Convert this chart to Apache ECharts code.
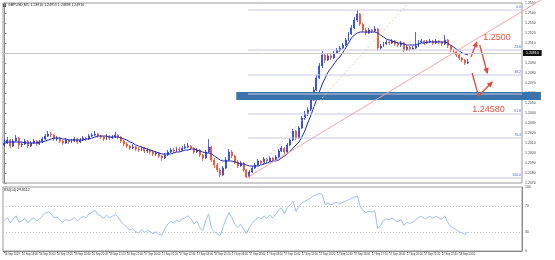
<!DOCTYPE html>
<html><head><meta charset="utf-8">
<script src="https://cdn.jsdelivr.net/npm/echarts@6/dist/echarts.min.js"></script>
<style>html,body{margin:0;padding:0;background:#fff}#c{width:555px;height:260px}</style>
</head><body><div id="c"></div><script>
const symbolTitle = 'GBPUSD,M5  1.24910 1.24915 1.24898 1.24910';
const rsiTitle = 'RSI(14) 29.8512';
const tickLabels = ["16 Sep 2019","16 Sep 14:40","16 Sep 16:00","16 Sep 17:20","16 Sep 18:40","16 Sep 20:00","16 Sep 21:20","16 Sep 22:40","17 Sep 00:00","17 Sep 01:20","17 Sep 02:40","17 Sep 04:00","17 Sep 05:20","17 Sep 06:40","17 Sep 08:00","17 Sep 09:20","17 Sep 10:40","17 Sep 12:00","17 Sep 13:20","17 Sep 14:40","17 Sep 16:00","17 Sep 17:20","17 Sep 18:40","17 Sep 20:00","17 Sep 21:20","17 Sep 22:40","18 Sep 00:00"];
const barsPerLabel = 6;
const emptyBars = 18;
const firstOpen = 1.2408;
const closes = [1.2410,1.2413,1.2407,1.2412,1.2415,1.2408,1.2409,1.2412,1.2407,1.2410,
1.2412,1.2409,1.2411,1.2414,1.2417,1.2419,1.2418,1.2414,1.2415,1.2412,
1.2410,1.2413,1.2411,1.2412,1.2414,1.2411,1.2413,1.2415,1.2414,1.2417,
1.2418,1.2419,1.2417,1.2416,1.2414,1.2417,1.2415,1.2416,1.2418,1.2416,
1.2412,1.2409,1.2407,1.2405,1.2406,1.2404,1.2403,1.2405,1.2402,1.2403,
1.2401,1.2399,1.2400,1.2397,1.2395,1.2398,1.2401,1.2403,1.2402,1.2404,
1.2403,1.2405,1.2406,1.2407,1.2405,1.2401,1.2403,1.2398,1.2395,1.2401,
1.2406,1.2393,1.2388,1.2383,1.2378,1.2385,1.2393,1.2401,1.2397,1.2391,
1.2387,1.2390,1.2383,1.2376,1.2381,1.2385,1.2388,1.2392,1.2390,1.2394,
1.2392,1.2395,1.2393,1.2396,1.2402,1.2405,1.2401,1.2408,1.2413,1.2422,
1.2415,1.2425,1.2435,1.2439,1.2443,1.2453,1.2463,1.2475,1.2487,1.2498,
1.2493,1.2497,1.2495,1.2500,1.2503,1.2505,1.2508,1.2513,1.2519,1.2525,
1.2533,1.2539,1.2529,1.2523,1.2520,1.2523,1.2522,1.2524,1.2505,1.2507,
1.2509,1.2511,1.2510,1.2512,1.2509,1.2508,1.2510,1.2503,1.2506,1.2504,
1.2505,1.2507,1.2511,1.2512,1.2510,1.2511,1.2512,1.2510,1.2512,1.2511,
1.2509,1.2513,1.2507,1.2503,1.2501,1.2498,1.2495,1.2493,1.2490,1.2491];
const highs = [1.2414,1.2416,1.2414,1.2414,1.2418,1.2416,1.2411,1.2414,1.2413,1.2412,
1.2414,1.2413,1.2413,1.2416,1.2419,1.2422,1.2421,1.2419,1.2417,1.2416,
1.2413,1.2415,1.2414,1.2414,1.2416,1.2415,1.2415,1.2417,1.2416,1.2419,
1.2420,1.2422,1.2420,1.2418,1.2417,1.2419,1.2418,1.2418,1.2421,1.2419,
1.2417,1.2413,1.2411,1.2408,1.2409,1.2407,1.2406,1.2407,1.2406,1.2405,
1.2404,1.2403,1.2402,1.2401,1.2398,1.2400,1.2403,1.2405,1.2405,1.2406,
1.2406,1.2407,1.2409,1.2410,1.2408,1.2406,1.2405,1.2404,1.2399,1.2403,
1.2414,1.2407,1.2395,1.2390,1.2385,1.2387,1.2396,1.2404,1.2403,1.2398,
1.2393,1.2392,1.2391,1.2384,1.2383,1.2387,1.2390,1.2394,1.2393,1.2396,
1.2395,1.2397,1.2396,1.2398,1.2404,1.2407,1.2406,1.2410,1.2415,1.2424,
1.2423,1.2427,1.2437,1.2442,1.2446,1.2455,1.2466,1.2478,1.2490,1.2502,
1.2500,1.2500,1.2499,1.2502,1.2505,1.2507,1.2510,1.2515,1.2521,1.2528,
1.2536,1.2543,1.2540,1.2530,1.2525,1.2525,1.2524,1.2527,1.2525,1.2509,
1.2511,1.2513,1.2512,1.2514,1.2513,1.2511,1.2512,1.2511,1.2508,1.2507,
1.2507,1.2521,1.2513,1.2514,1.2513,1.2513,1.2514,1.2513,1.2514,1.2513,
1.2512,1.2518,1.2514,1.2508,1.2504,1.2502,1.2499,1.2496,1.2494,1.2494];
const lows = [1.2406,1.2409,1.2405,1.2406,1.2411,1.2404,1.2406,1.2408,1.2405,1.2406,
1.2409,1.2407,1.2408,1.2410,1.2413,1.2416,1.2416,1.2412,1.2412,1.2410,
1.2408,1.2409,1.2409,1.2410,1.2411,1.2409,1.2410,1.2412,1.2412,1.2413,
1.2416,1.2417,1.2415,1.2414,1.2412,1.2413,1.2413,1.2414,1.2415,1.2414,
1.2410,1.2407,1.2405,1.2403,1.2404,1.2402,1.2401,1.2402,1.2400,1.2400,
1.2399,1.2397,1.2397,1.2395,1.2392,1.2394,1.2397,1.2400,1.2400,1.2401,
1.2401,1.2402,1.2404,1.2405,1.2403,1.2399,1.2400,1.2396,1.2392,1.2394,
1.2400,1.2391,1.2385,1.2381,1.2376,1.2377,1.2384,1.2392,1.2395,1.2389,
1.2385,1.2386,1.2381,1.2375,1.2375,1.2380,1.2384,1.2387,1.2388,1.2389,
1.2390,1.2391,1.2391,1.2392,1.2395,1.2401,1.2399,1.2400,1.2407,1.2412,
1.2413,1.2414,1.2424,1.2433,1.2437,1.2442,1.2452,1.2462,1.2474,1.2485,
1.2490,1.2492,1.2493,1.2494,1.2499,1.2501,1.2504,1.2507,1.2512,1.2518,
1.2524,1.2531,1.2527,1.2521,1.2518,1.2519,1.2520,1.2521,1.2502,1.2503,
1.2506,1.2508,1.2508,1.2509,1.2507,1.2506,1.2506,1.2501,1.2502,1.2502,
1.2503,1.2504,1.2506,1.2510,1.2508,1.2509,1.2510,1.2508,1.2509,1.2509,
1.2507,1.2508,1.2505,1.2501,1.2499,1.2496,1.2493,1.2491,1.2488,1.2489];
const maValues = [1.2411,1.2411,1.2411,1.2411,1.2411,1.2411,1.2411,1.2410,1.2410,1.2410,
1.2410,1.2410,1.2411,1.2411,1.2412,1.2413,1.2414,1.2415,1.2415,1.2415,
1.2414,1.2414,1.2413,1.2413,1.2413,1.2413,1.2413,1.2413,1.2414,1.2414,
1.2415,1.2416,1.2417,1.2417,1.2417,1.2417,1.2416,1.2416,1.2416,1.2416,
1.2415,1.2414,1.2413,1.2411,1.2410,1.2408,1.2407,1.2406,1.2405,1.2404,
1.2403,1.2402,1.2401,1.2400,1.2399,1.2399,1.2399,1.2399,1.2400,1.2401,
1.2401,1.2402,1.2403,1.2403,1.2404,1.2404,1.2403,1.2402,1.2401,1.2400,
1.2400,1.2399,1.2397,1.2395,1.2393,1.2392,1.2392,1.2392,1.2392,1.2391,
1.2390,1.2389,1.2389,1.2388,1.2387,1.2387,1.2387,1.2387,1.2388,1.2389,
1.2390,1.2391,1.2392,1.2392,1.2393,1.2395,1.2397,1.2399,1.2402,1.2405,
1.2408,1.2411,1.2416,1.2422,1.2430,1.2437,1.2445,1.2453,1.2461,1.2469,
1.2475,1.2481,1.2485,1.2489,1.2493,1.2496,1.2500,1.2505,1.2510,1.2515,
1.2518,1.2520,1.2521,1.2521,1.2521,1.2521,1.2521,1.2521,1.2520,1.2518,
1.2516,1.2514,1.2513,1.2512,1.2511,1.2510,1.2510,1.2509,1.2508,1.2508,
1.2508,1.2508,1.2509,1.2510,1.2510,1.2511,1.2511,1.2511,1.2511,1.2511,
1.2511,1.2511,1.2510,1.2508,1.2506,1.2504,1.2502,1.2500,1.2499,1.2498];
const rsiValues = [48,52,44,50,55,45,47,51,44,49,
52,47,50,55,59,61,58,52,53,48,
45,50,47,49,52,47,51,54,52,58,
60,64,57,55,51,56,52,54,57,53,
46,41,37,33,35,30,28,33,29,32,
30,27,30,26,25,35,42,46,44,48,
46,50,52,55,50,42,47,37,32,47,
58,35,30,27,24,38,50,60,52,42,
37,42,34,27,37,44,48,53,50,55,
51,56,52,57,64,67,58,68,72,78,
62,70,75,78,80,83,86,88,90,88,
72,75,72,75,76,74,76,78,80,82,
84,86,70,63,60,62,61,63,35,40,
48,50,49,52,47,46,49,40,45,43,
45,48,53,54,51,52,54,51,54,52,
49,55,45,38,36,33,30,28,26,30];
const bidPrice = 1.2491;
const bidLabel = '1.24910';
const rsiLevels = [70, 30];
const rsiAxisLabels = [0, 30, 70, 100];
const fibLevels = [['0.0',1.2543],['23.6',1.2503],['38.2',1.2478],['50.0',1.2459],['61.8',1.2439],['76.4',1.2415],['100.0',1.2375]];
const fibStartIndex = 84;
const band = {from: 80, to: 184, low: 1.2453, high: 1.2461};
const trendLine = [[83,1.2375],[184,1.2553]];
const fibDiagonal = [[84,1.2375],[138,1.2548]];
const arrows = [
  [[160,1.2496],[162,1.2511]],
  [[163,1.2508],[165.6,1.2480]],
  [[160.4,1.2480],[162.6,1.2457],[167.3,1.2471]]
];
const notes = [['1.2500',164.2,1.2515],['1.24580',160.4,1.2443]];

const N = closes.length;
const totalBars = N + emptyBars;
const cats = [];
for (let i = 0; i < totalBars; i++) cats.push('b' + i);
const candleData = closes.map((c, i) => [i === 0 ? firstOpen : closes[i - 1], c, lows[i], highs[i]]);
const labelAt = idx => (idx % barsPerLabel === 0 && idx / barsPerLabel < tickLabels.length);

const chart = echarts.init(document.getElementById('c'), null, {renderer: 'canvas'});
const FONT = 'Liberation Sans, Arial, sans-serif';

function arrowHead(p, q, size) {
  const dx = q[0] - p[0], dy = q[1] - p[1];
  const len = Math.sqrt(dx * dx + dy * dy) || 1;
  const ux = dx / len, uy = dy / len;
  const bx = q[0] - ux * size, by = q[1] - uy * size;
  return [[q[0] + ux * 1, q[1] + uy * 1], [bx - uy * size * 0.55, by + ux * size * 0.55], [bx + uy * size * 0.55, by - ux * size * 0.55]];
}

function renderAnnotations(params, api) {
  const ch = [];
  const tl = api.coord([band.from - 0.5, band.high]);
  const br = api.coord([band.to, band.low]);
  ch.push({type: 'rect', shape: {x: tl[0], y: tl[1], width: br[0] - tl[0], height: br[1] - tl[1]}, style: {fill: '#3a73aa'}});
  fibLevels.forEach(([lab, v]) => {
    const a = api.coord([fibStartIndex - 0.5, v]);
    const b = api.coord([totalBars - 0.5, v]);
    ch.push({type: 'line', shape: {x1: a[0], y1: a[1], x2: b[0], y2: b[1]}, style: {stroke: '#c5c8e4', lineWidth: 1}});
    ch.push({type: 'text', style: {text: lab, x: b[0] - 1, y: a[1] - 0.5, align: 'right', verticalAlign: 'bottom', fill: lab === '50.0' ? '#ffffff' : '#3f5fd6', font: '3.5px ' + FONT}});
  });
  const t1 = api.coord(trendLine[0]), t2 = api.coord(trendLine[1]);
  ch.push({type: 'line', shape: {x1: t1[0], y1: t1[1], x2: t2[0], y2: t2[1]}, style: {stroke: '#f2a3a3', lineWidth: 1}});
  const d1 = api.coord(fibDiagonal[0]), d2 = api.coord(fibDiagonal[1]);
  ch.push({type: 'line', shape: {x1: d1[0], y1: d1[1], x2: d2[0], y2: d2[1]}, style: {stroke: '#f6c9a0', lineWidth: 1, lineDash: [2, 2]}});
  arrows.forEach(pts => {
    const px = pts.map(p => api.coord(p));
    ch.push({type: 'polyline', shape: {points: px}, style: {stroke: '#e5473b', lineWidth: 1.3, fill: null}});
    const head = arrowHead(px[px.length - 2], px[px.length - 1], 5);
    ch.push({type: 'polygon', shape: {points: head}, style: {fill: '#e5473b'}});
  });
  notes.forEach(([txt, i, v]) => {
    const p = api.coord([i, v]);
    ch.push({type: 'text', style: {text: txt, x: p[0], y: p[1], align: 'left', verticalAlign: 'middle', fill: '#e8503f', font: '9px ' + FONT}});
  });
  return {type: 'group', children: ch};
}

const option = {
  animation: false,
  backgroundColor: '#ffffff',
  textStyle: {fontFamily: FONT},
  graphic: [
    {type: 'rect', left: 3, top: 4, shape: {width: 3, height: 3}, style: {fill: '#555'}},
    {type: 'text', left: 8, top: 3.5, style: {text: symbolTitle, fill: '#222', font: '3.5px ' + FONT}},
    {type: 'text', left: 4, top: 188.5, style: {text: rsiTitle, fill: '#222', font: '3.5px ' + FONT}}
  ],
  grid: [
    {left: 3, right: 33, top: 3, height: 180, show: true, borderColor: '#9a9a9a', borderWidth: 1},
    {left: 3, right: 33, top: 187, height: 64, show: true, borderColor: '#9a9a9a', borderWidth: 1}
  ],
  xAxis: [
    {type: 'category', gridIndex: 0, data: cats, boundaryGap: true, axisLine: {show: false}, axisTick: {show: false}, axisLabel: {show: false}, splitLine: {show: false}},
    {type: 'category', gridIndex: 1, data: cats, boundaryGap: true,
      axisLine: {show: true, lineStyle: {color: '#888'}},
      axisTick: {show: true, length: 2, alignWithLabel: true, interval: (idx) => labelAt(idx), lineStyle: {color: '#888'}},
      axisLabel: {show: true, interval: (idx) => labelAt(idx), formatter: (v, idx) => tickLabels[idx / barsPerLabel] || '', fontSize: 2.7, color: '#333', align: 'left', margin: 2},
      splitLine: {show: false}},
    {type: 'value', gridIndex: 0, min: -0.5, max: totalBars - 0.5, show: false}
  ],
  yAxis: [
    {type: 'value', gridIndex: 0, position: 'right', min: 1.2370, max: 1.2550, interval: 0.0010,
      axisLine: {show: true, lineStyle: {color: '#888'}}, axisTick: {show: true, length: 2, lineStyle: {color: '#888'}},
      axisLabel: {fontSize: 3.5, color: '#444', margin: 3, formatter: v => v.toFixed(4)}, splitLine: {show: false}},
    {type: 'value', gridIndex: 1, position: 'right', min: 0, max: 100, interval: 10,
      axisLine: {show: true, lineStyle: {color: '#888'}}, axisTick: {show: false},
      axisLabel: {fontSize: 3.5, color: '#444', margin: 3, formatter: v => rsiAxisLabels.indexOf(v) >= 0 ? String(v) : ''}, splitLine: {show: false}}
  ],
  series: [
    {type: 'candlestick', xAxisIndex: 0, yAxisIndex: 0, data: candleData, barMaxWidth: 1.6,
      itemStyle: {color: '#2340e0', color0: '#ee4a28', borderColor: '#2340e0', borderColor0: '#ee4a28', borderWidth: 0.8},
      markLine: {silent: true, symbol: 'none', data: [{yAxis: bidPrice}],
        lineStyle: {color: '#c8c8c8', width: 1, type: 'solid'},
        label: {show: true, position: 'end', formatter: bidLabel, backgroundColor: '#111', color: '#fff', fontSize: 3.5, padding: [1, 3], distance: 1}}},
    {type: 'line', xAxisIndex: 0, yAxisIndex: 0, data: maValues, symbol: 'none', lineStyle: {color: '#1f2db5', width: 1}, z: 3},
    {type: 'custom', xAxisIndex: 2, yAxisIndex: 0, data: [[0, 1.246]], renderItem: renderAnnotations, clip: false, z: 4, silent: true},
    {type: 'line', xAxisIndex: 1, yAxisIndex: 1, data: rsiValues, symbol: 'none', lineStyle: {color: '#9dc0ea', width: 1},
      markLine: {silent: true, symbol: 'none', data: rsiLevels.map(v => ({yAxis: v})), lineStyle: {color: '#c0c0c0', width: 1, type: [1, 2]}, label: {show: false}}}
  ]
};
chart.setOption(option);
</script></body></html>
